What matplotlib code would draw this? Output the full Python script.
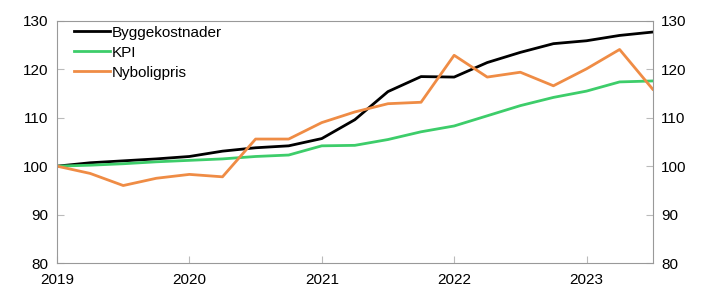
import matplotlib.pyplot as plt

plt.rcParams['font.family'] = ['Liberation Sans', 'DejaVu Sans']

# quarterly index, 2019Q1 = 100
quarters = list(range(19))  # 2019Q1 .. 2023Q3
byggekostnader = [100.0, 100.7, 101.1, 101.5, 102.0, 103.1, 103.8, 104.2, 105.7,
                  109.6, 115.4, 118.5, 118.4, 121.4, 123.5, 125.3, 125.9, 127.0, 127.7]
kpi = [100.0, 100.2, 100.5, 100.9, 101.2, 101.5, 102.0, 102.3, 104.2,
       104.3, 105.5, 107.1, 108.3, 110.4, 112.5, 114.2, 115.5, 117.4, 117.6]
nyboligpris = [100.0, 98.5, 96.0, 97.5, 98.3, 97.8, 105.6, 105.6, 109.0,
               111.2, 112.9, 113.2, 122.9, 118.4, 119.4, 116.6, 120.1, 124.1, 115.9]

year_ticks = [0, 4, 8, 12, 16]
year_labels = ['2019', '2020', '2021', '2022', '2023']
y_ticks = [80, 90, 100, 110, 120, 130]

fig = plt.figure(figsize=(7.22, 3.03), dpi=100)
ax = fig.add_axes([0.079, 0.132, 0.825, 0.799])

ax.plot(quarters, byggekostnader, color='black', lw=2, label='Byggekostnader')
ax.plot(quarters, kpi, color='#3dcd6a', lw=2, label='KPI')
ax.plot(quarters, nyboligpris, color='#ef8c45', lw=2, label='Nyboligpris')

ax.set_xlim(0, 18)
ax.set_ylim(80, 130)
ax.set_xticks(year_ticks)
ax.set_xticklabels(year_labels)
ax.set_yticks(y_ticks)
ax.tick_params(axis='both', direction='in', length=5, color='#bbbbbb',
               labelsize=11, right=True, labelright=True)
ax.tick_params(axis='x', pad=7)
ax.tick_params(axis='y', pad=6)
for s in ax.spines.values():
    s.set_color('#999999')
    s.set_linewidth(0.8)

ax.legend(loc='upper left', frameon=False, fontsize=11, handlelength=2.4,
          handletextpad=0.1, labelspacing=0.4, borderaxespad=0.3,
          bbox_to_anchor=(0.01, 1.025))

fig.savefig('out.png', dpi=100)
